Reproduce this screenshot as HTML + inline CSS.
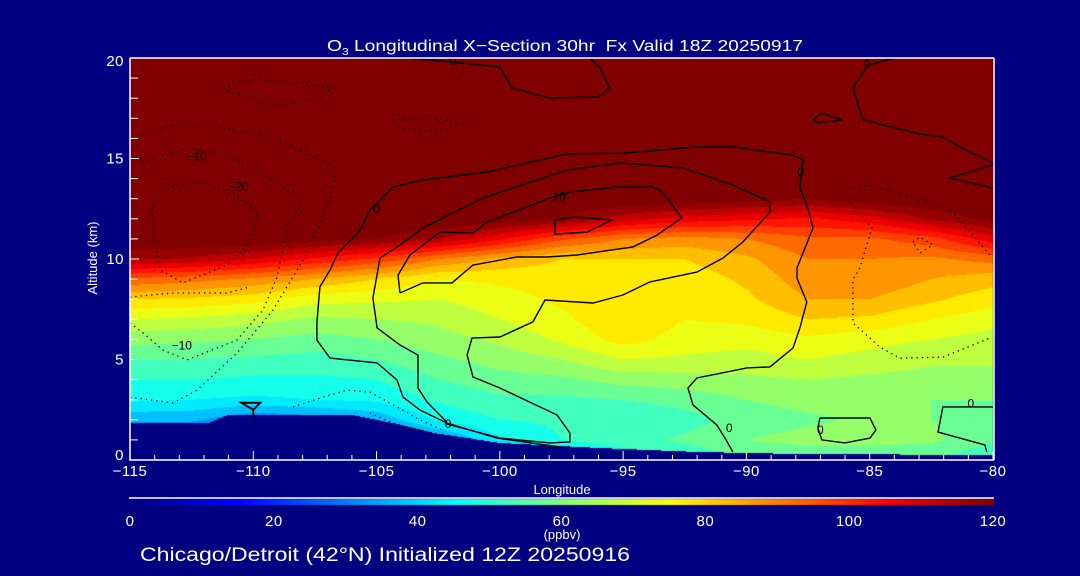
<!DOCTYPE html>
<html><head><meta charset="utf-8">
<style>
html,body{margin:0;padding:0;background:#000080;width:1080px;height:576px;overflow:hidden}
#wrap{position:relative;width:1080px;height:576px}
canvas,svg{position:absolute;left:0;top:0}
text{font-family:"Liberation Sans",sans-serif;fill:#fff}
</style></head>
<body>
<div id="wrap">
<canvas id="cv" width="1080" height="576"></canvas>
<svg id="sv" width="1080" height="576"></svg>
</div>
<script>
// ---- data ----
const lons = [-115,-112.5,-110,-107.5,-105,-102.5,-100,-97.5,-95,-92.5,-90,-87.5,-85,-82.5,-80];
const alts = [0,1,2,3,4,5,6,7,8,9,10,11,12,13,14,15,16,17,18,19,20];
const colM115 = [20,25,36,46,50,55,62,70,80,94,116,125,125,125,125,125,125,125,125,125,125];
const colM112 = [20,25,36,45,50,55,61,69,79,92,114,125,125,125,125,125,125,125,125,125,125];
const colM110 = [20,25,30,44,49,54,60,67,77,89,110,125,125,125,125,125,125,125,125,125,125];
const colM107 = [20,25,32,45,49,53,58,64,72,85,104,122,125,125,125,125,125,125,125,125,125];
const colM105 = [20,25,36,46,50,55,60,65,71,80,99,120,125,125,125,125,125,125,125,125,125];
const colM102 = [25,33,46,51,55,59,63,66,70,75,90,115,125,125,125,125,125,125,125,125,125];
const colM100 = [30,44,50,54,58,62,66,70,73,76,84,106,123,125,125,125,125,125,125,125,125];
const colM97 = [40,50,51,54,59,65,71,74,76,77,80,96,120,125,125,125,125,125,125,125,125];
const colM95 = [45,53,50,55,62,70,77,79,76,77,80,90,112,125,125,125,125,125,125,125,125];
const colM92 = [50,56,53,57,63,69,73,75,77,77,80,88,108,124,125,125,125,125,125,125,125];
const colM90 = [55,60,57,60,64,68,72,76,79,81,84,90,106,122,125,125,125,125,125,125,125];
const colM87 = [55,62,59,62,65,70,74,80,85,88,90,94,104,120,125,125,125,125,125,125,125];
const colM85 = [55,62,61,62,64,68,72,79,85,89,90,94,108,124,125,125,125,125,125,125,125];
const colM82 = [55,61,60,60,63,66,70,75,81,85,89,98,116,125,125,125,125,125,125,125,125];
const colM80 = [50,56,58,60,63,66,68,72,77,82,92,108,122,125,125,125,125,125,125,125,125];
const columns = [colM115,colM112,colM110,colM107,colM105,colM102,colM100,colM97,colM95,colM92,colM90,colM87,colM85,colM82,colM80];
const terrLon = [-115,-111.8,-111,-106,-104,-102.7,-100,-96,-92,-88,-80];
const terrAlt = [1.85,1.85,2.25,2.25,1.75,1.35,0.85,0.6,0.4,0.3,0.25];
const xTicks = [-115,-110,-105,-100,-95,-90,-85,-80];
const xTickLabels = ["\u2212115","\u2212110","\u2212105","\u2212100","\u221295","\u221290","\u221285","\u221280"];
const yTicks = [0,5,10,15,20];
const cbTicks = [0,20,40,60,80,100,120];

// contours: [lon,alt] pairs
const cArchLon = [-97.56,-100.12,-102.15,-103.24,-103.93,-104.17,-104.98,-106.89,-107.42,-107.42,-107.3,-106.89,-106.57,-105.67,-105.27,-104.33,-103.12,-100.52,-97.28,-95.01,-92.01,-90.55,-88.11,-87.71,-87.83,-87.55,-87.3,-87.95,-87.95,-87.55,-87.83,-88.11,-89.05,-89.98,-92.01,-92.37,-92.17,-91.2,-90.87,-90.55];
const cArchAlt = [0.65,1.09,1.84,2.49,3.13,3.98,4.83,5.07,5.97,6.82,8.61,9.45,10.3,11.44,12.44,13.58,13.93,14.33,15.22,15.27,15.57,15.57,15.17,14.93,13.53,12.69,11.54,9.55,9.05,7.86,6.57,5.57,4.63,4.58,4.08,3.58,2.74,1.74,1.09,0.4];
const cBLon = [-102.15,-102.96,-103.32,-103.32,-104.05,-104.98,-105.15,-104.86,-104.05,-103.12,-100.69,-97.28,-95.13,-92.57,-90.55,-89.05,-89.05,-90.14,-90.95,-92.01,-93.91,-95.01,-96.22,-98.17,-98.66,-100,-101.13,-101.33,-101.09,-100,-97.68,-97.16,-97.16,-97.97,-100,-102.15];
const cBAlt = [1.89,2.89,3.58,5.22,5.72,6.57,8.06,10.05,10.7,11.54,13.03,14.43,14.78,14.53,13.68,12.84,12.34,10.85,10.05,9.35,8.86,8.21,7.81,7.96,6.87,6.12,6.07,5.22,4.13,3.58,2.24,1.34,0.9,0.85,1.09,1.79];
const cCLon = [-104.05,-104.13,-103.65,-102.43,-101.09,-100.52,-97.97,-97.16,-95.25,-93.79,-93.39,-92.62,-93.63,-94.6,-96.87,-98.09,-99.31,-101.09,-101.94,-103.12,-104.05];
const cCAlt = [8.31,9.2,10.2,11.34,11.29,11.84,13.03,13.33,13.58,13.58,13.33,12.04,11.19,10.6,10.2,10.1,10.1,9.7,8.81,8.81,8.31];
const cDLon = [-97.77,-97.04,-95.45,-96.47,-97.77,-97.77];
const cDAlt = [11.94,12.09,11.94,11.34,11.24,11.94];
const cELon = [-106.89,-103.77,-101.9,-100,-99.51,-97.97,-96.02,-95.54,-95.94,-96.35];
const cEAlt = [20,20,19.8,19.55,18.51,18.01,18.06,18.51,19.5,20];
const cFLon = [-83.98,-85.07,-85.68,-85.28,-82.96,-82.03,-80.94,-80];
const cFAlt = [20,19.65,18.51,16.92,16.22,16.07,15.32,14.78];
const cGLon = [-80,-81.75,-80];
const cGAlt = [14.68,14.03,13.53];
const cHLon = [-87.3,-86.94,-86.13,-87.1,-87.3];
const cHAlt = [16.92,17.26,16.92,16.77,16.92];
const cILon = [-87.02,-84.99,-84.75,-84.99,-86.01,-86.94,-87.1,-87.02];
const cIAlt = [2.09,2.09,1.49,1.09,0.85,1.0,1.59,2.09];
const cJLon = [-80,-82.03,-82.23,-80.33,-80.25];
const cJAlt = [2.64,2.64,1.39,0.75,0.4];
// dotted (negative) contours
const dKLon = [-80.13,-80.82,-81.63,-82.96,-84.99,-86.01,-85.8,-84.91,-85.4,-85.68,-85.68,-84.59,-83.78,-82.03,-80.13];
const dKAlt = [10.2,11.19,12.34,13.03,13.63,13.53,12.84,11.54,9.55,8.96,6.82,5.62,5.07,5.12,6.07];
const dLLon = [-83.25,-82.96,-82.44,-82.96,-83.25];
const dLAlt = [10.85,11.09,10.7,10.3,10.85];
const dMLon = [-111.23,-110.01,-106.77,-107.3,-109.04,-110.94,-111.23];
const dMAlt = [18.51,18.96,18.56,18.01,17.61,18.31,18.51];
const dNLon = [-104.33,-102.96,-101.33,-102.71,-104.05,-104.33];
const dNAlt = [16.92,17.06,16.72,16.37,16.52,16.92];
const dOLon = [-115,-113.26,-111.76,-109.73,-108.39,-106.77,-106.69,-106.89,-107.42,-107.98,-109.2,-110.66,-112.28,-113.26,-115];
const dOAlt = [16.07,16.67,16.62,16.17,15.57,14.68,14.18,12.94,11.44,9.95,7.46,5.32,3.48,2.84,3.13];
const dPLon = [-115,-114.47,-113.66,-112.69,-110.66,-109.61,-109.04,-108.63,-107.98,-109.81,-110.94,-112.69,-114.88];
const dPAlt = [6.82,6.32,5.47,4.98,5.97,7.46,9.1,11.44,12.94,14.33,15.17,15.52,14.68];
const dQLon = [-114.11,-113.66,-112.04,-110.66,-109.85,-110.01,-110.42,-111.07,-112.85,-113.78,-113.99,-114.11];
const dQAlt = [12.54,13.53,13.78,13.18,12.34,11.19,10.45,9.7,8.81,9.45,10.8,12.54];
const dRLon = [-115,-113.26,-111.07,-110.13];
const dRAlt = [8.11,8.31,8.31,8.61];
const dSLon = [-108.39,-107.17,-106.2,-105.27,-104.17,-103.24,-102.31];
const dSAlt = [2.64,3.13,3.48,3.38,2.64,1.99,1.49];
const dTLon = [-105.27,-103.93,-102.71];
const dTAlt = [2.34,1.64,1.34];
const labelText = ["0","0","0","0","0","0","0","10","\u221210","\u221210","\u221220","0"];
const labelLon = [-105.0,-87.8,-102.1,-90.7,-80.9,-87.0,-101.9,-97.6,-112.3,-112.9,-110.6,-85.1];
const labelAlt = [12.5,14.3,1.8,1.6,2.8,1.5,19.85,13.1,15.1,5.7,13.6,19.7];

// ---- axes ----
const X0=130, X1=993, Y0=460, Y1=58;
function xs(lon){return X0+(lon+115)/35*(X1-X0);}
function ys(a){return Y0-a/20*(Y0-Y1);}
function jet(t){
  const c=v=>Math.max(0,Math.min(1,v));
  return [c(1.5-Math.abs(4*t-3)),c(1.5-Math.abs(4*t-2)),c(1.5-Math.abs(4*t-1))].map(v=>Math.round(v*255));
}
function colorFor(v){
  if(v>=120) return [128,0,0];
  if(v<0) v=0;
  const q=Math.floor(v/5)*5+2.5;
  return jet(q/120);
}
function field(lon,alt){
  let fi=(lon+115)/2.5, fj=alt;
  fi=Math.max(0,Math.min(lons.length-1.0001,fi));
  fj=Math.max(0,Math.min(alts.length-1.0001,fj));
  const i=Math.floor(fi), j=Math.floor(fj), u=fi-i, w=fj-j;
  const a=columns[i][j], b=columns[i+1][j], c=columns[i][j+1], d=columns[i+1][j+1];
  return (a*(1-u)+b*u)*(1-w)+(c*(1-u)+d*u)*w;
}
function terrain(lon){
  for(let k=0;k<terrLon.length-1;k++){
    if(lon>=terrLon[k]&&lon<=terrLon[k+1]){
      const t=(lon-terrLon[k])/(terrLon[k+1]-terrLon[k]);
      return terrAlt[k]+t*(terrAlt[k+1]-terrAlt[k]);
    }
  }
  return terrAlt[terrAlt.length-1];
}
// draw field
const cv=document.getElementById('cv'); const ctx=cv.getContext('2d');
const W=X1-X0, H=Y0-Y1;
const img=ctx.createImageData(W,H);
for(let py=0;py<H;py++){
  const alt=(Y0-(Y1+py+0.5))/(Y0-Y1)*20;
  for(let px=0;px<W;px++){
    const lon=-115+(px+0.5)/W*35;
    let col;
    if(alt<terrain(lon)) col=[0,0,128];
    else col=colorFor(field(lon,alt));
    const o=(py*W+px)*4;
    img.data[o]=col[0];img.data[o+1]=col[1];img.data[o+2]=col[2];img.data[o+3]=255;
  }
}
ctx.putImageData(img,X0,Y1);
// colorbar
for(let px=0;px<X1-X0+1;px++){
  const v=px/(X1-X0)*120;
  const c=jet(Math.min(1,v/120));
  ctx.fillStyle=`rgb(${c[0]},${c[1]},${c[2]})`;
  ctx.fillRect(X0+px,499,1,6);
}

// ---- svg ----
const NS='http://www.w3.org/2000/svg';
const sv=document.getElementById('sv');
function mk(tag,attrs,parent){const e=document.createElementNS(NS,tag);for(const k in attrs)e.setAttribute(k,attrs[k]);(parent||sv).appendChild(e);return e;}
function poly(lonArr,altArr,dotted,name){
  const pts=lonArr.map((l,i)=>xs(l).toFixed(1)+','+ys(altArr[i]).toFixed(1)).join(' ');
  const e=mk('polyline',{points:pts,fill:'none',stroke:'#000','stroke-width':dotted?1.3:1.4,'stroke-dasharray':dotted?'1.3 4':'none'});
  
  
}
poly(cArchLon,cArchAlt,false,'contour-zero-arch');
poly(cBLon,cBAlt,false,'contour-inner-loop');
poly(cCLon,cCAlt,false,'contour-10');
poly(cDLon,cDAlt,false,'contour-core');
poly(cELon,cEAlt,false,'contour-top-zero');
poly(cFLon,cFAlt,false,'contour-top-right');
poly(cGLon,cGAlt,false,'contour-right-wedge');
poly(cHLon,cHAlt,false,'contour-small-upper');
poly(cILon,cIAlt,false,'contour-small-lower');
poly(cJLon,cJAlt,false,'contour-right-lower');
poly(dKLon,dKAlt,true,'contour-neg-right');
poly(dLLon,dLAlt,true,'contour-neg-right-small');
poly(dMLon,dMAlt,true,'contour-neg-top-oval');
poly(dNLon,dNAlt,true,'contour-neg-mid-oval');
poly(dOLon,dOAlt,true,'contour-neg-outer');
poly(dPLon,dPAlt,true,'contour-neg-10');
poly(dQLon,dQAlt,true,'contour-neg-20');
poly(dRLon,dRAlt,true,'contour-neg-line');
poly(dSLon,dSAlt,true,'contour-neg-surface');
poly(dTLon,dTAlt,true,'contour-neg-surface-2');
labelText.forEach((t,i)=>{
  const e=mk('text',{x:xs(labelLon[i]),y:ys(labelAlt[i])+4,'font-size':12,'text-anchor':'middle'});
  e.style.fill='#000';
  e.textContent=t;
  
  
});
// station marker
const sx=xs(-110), sy=ys(2.75);
const mkr=mk('path',{d:`M${sx-12},${sy-2} L${sx+7},${sy-2} L${sx},${sy+5} Z M${sx},${sy+5} L${sx},${sy+12}`,fill:'none',stroke:'#000','stroke-width':2});



// axes lines
const ax=mk('path',{d:`M${X0},${Y1} L${X0},${Y0} L${X1+1},${Y0} M${X0},${Y1} L${X1+1},${Y1} M${X1+1},${Y1} L${X1+1},${Y0}`,stroke:'#fff','stroke-width':1.5,fill:'none'});


for(let l=-115;l<=-80;l++){
  const major=(l%5===0);
  const t=mk('line',{x1:xs(l),x2:xs(l),y1:Y0,y2:Y0-(major?9:5),stroke:'#fff','stroke-width':1});
  
  
}
for(let a=0;a<=20;a++){
  const major=(a%5===0);
  const t=mk('line',{x1:X0,x2:X0+(major?9:8),y1:ys(a),y2:ys(a),stroke:'#fff','stroke-width':1});
  
  
}
xTicks.forEach((l,i)=>{
  const e=mk('text',{x:xs(l),y:476,'font-size':15,'text-anchor':'middle','letter-spacing':'0.5'});
  e.textContent=xTickLabels[i];
  
  
});
yTicks.forEach(a=>{
  const yy=a===0?460:(a===20?66:ys(a)+5);
  const e=mk('text',{x:124,y:yy,'font-size':15,'text-anchor':'end','letter-spacing':'0.5'});
  e.textContent=String(a);
  
  
});
const xt=mk('text',{x:562,y:494,'font-size':13,'text-anchor':'middle'}); xt.textContent='Longitude';
 
const yt=mk('text',{x:0,y:0,'font-size':13,'text-anchor':'middle',transform:'translate(97,258) rotate(-90)'}); yt.textContent='Altitude (km)';
 
const tt=mk('text',{x:327,y:51,'font-size':16,textLength:476,lengthAdjust:'spacingAndGlyphs'});
tt.innerHTML='O<tspan font-size="10" dy="4">3</tspan><tspan dy="-4"> Longitudinal X\u2212Section 30hr\u00a0\u00a0Fx Valid 18Z 20250917</tspan>';
 
// colorbar
const cbl=mk('line',{x1:X0-1,x2:X1+1,y1:498,y2:498,stroke:'#fff','stroke-width':1.5});
 
cbTicks.forEach(v=>{
  const e=mk('text',{x:X0+v/120*(X1-X0),y:526,'font-size':15,'text-anchor':'middle','letter-spacing':'0.5'});
  e.textContent=String(v);
  
  
});
const un=mk('text',{x:562,y:539,'font-size':13,'text-anchor':'middle'}); un.textContent='(ppbv)';
 
const ft=mk('text',{x:140,y:561,'font-size':19,textLength:490,lengthAdjust:'spacingAndGlyphs'}); ft.textContent='Chicago/Detroit (42\u00b0N) Initialized 12Z 20250916';
 
</script>
</body></html>
